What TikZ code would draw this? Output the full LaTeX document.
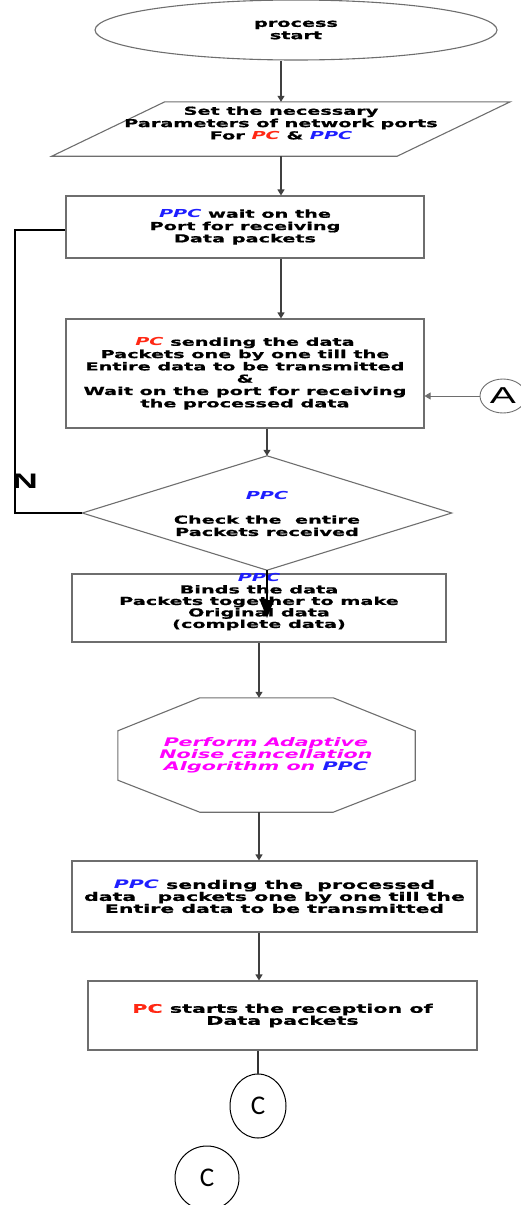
\documentclass[tikz,border=0pt]{standalone}
\usepackage{fontspec}
\setmainfont{DejaVu Sans}[FakeStretch=1.75,BoldFeatures={FakeBold=0.8}]
\newfontfamily\cfont{Carlito}
\newfontfamily\wfont{Liberation Sans}[FakeStretch=1.7]
\usetikzlibrary{arrows.meta,shapes.geometric,calc}
\definecolor{pcred}{RGB}{255,40,20}
\definecolor{ppcblue}{RGB}{30,30,255}
\definecolor{nmag}{RGB}{255,0,255}
\definecolor{edgec}{RGB}{110,110,110}
\newcommand{\myPC}{\textcolor{pcred}{\itshape PC}}
\newcommand{\myPPC}{\textcolor{ppcblue}{\itshape PPC}}
\begin{document}
\begin{tikzpicture}[x=1pt,y=-1pt,
  txt/.style={align=center,font=\fontsize{11}{12.3}\selectfont\bfseries,inner sep=0pt},
  shp/.style={draw=edgec,line width=1.1pt},
  boxn/.style={shp,rectangle,inner sep=0pt},
  arr/.style={draw=black!75,line width=1.2pt,-{Triangle[length=6pt,width=7pt]}},
]
\useasboundingbox (0,0) rectangle (521,1205);
% start
\node[shp,ellipse,minimum width=402pt,minimum height=60pt,txt] (e) at (296,30) {process\\start};
% parallelogram
\node[inner sep=0pt,minimum width=345pt,minimum height=54pt] (p) at (281,129) {};
\draw[shp] ($(p.north west)+(56.5,0)$) -- ($(p.north east)+(56.5,0)$) -- ($(p.south east)+(-56.5,0)$) -- ($(p.south west)+(-56.5,0)$) -- cycle;
\node[txt] (pt) at (281,123) {Set the necessary\\Parameters of network ports\\For \myPC{} \& \myPPC};
% box 3
\node[boxn,txt,minimum width=358pt,minimum height=62pt] (b3) at (245,227) {\myPPC{} wait on the\\Port for receiving\\Data packets};
% box 4
\node[boxn,txt,minimum width=358pt,minimum height=109pt] (b4) at (245,373.5) {\myPC{} sending the data\\Packets one by one till the\\Entire data to be transmitted\\\&\\Wait on the port for receiving\\the processed data};
% connector A
\node[draw=edgec,line width=0.9pt,ellipse,minimum width=46pt,minimum height=34pt,inner sep=0pt,font=\wfont\fontsize{23}{23}\selectfont] (A) at (503,396) {A};
% diamond
\node[inner sep=0pt,minimum width=369pt,minimum height=114pt] (d) at (267,513) {};
\draw[shp] (d.north) -- (d.east) -- (d.south) -- (d.west) -- cycle;
\node[txt] (dt) at (267,513.5) {\myPPC\\[12.3pt]Check the\ \ entire\\Packets received};
% box 5
\node[boxn,minimum width=374pt,minimum height=68pt] (b5) at (259,608) {};
\node[txt,font=\fontsize{11}{11.5}\selectfont\bfseries] (b5t) at (259,602) {\myPPC\\Binds the data\\Packets together to make\\Original data\\(complete data)};
% octagon
\node[inner sep=0pt,minimum width=297pt,minimum height=114pt] (o) at (266.5,755) {};
\draw[shp] ($(o.north west)+(82,0)$) -- ($(o.north east)+(-82,0)$) -- ($(o.north east)+(0,33)$) -- ($(o.south east)+(0,-32)$) -- ($(o.south east)+(-82,0)$) -- ($(o.south west)+(82,0)$) -- ($(o.south west)+(0,-32)$) -- ($(o.north west)+(0,33)$) -- cycle;
\node[txt,text=nmag,font=\fontsize{11.8}{11.8}\selectfont\bfseries\itshape] (ot) at (266,755.5) {Perform Adaptive\\Noise cancellation\\Algorithm on \textcolor{ppcblue}{PPC}};
% box 6
\node[boxn,txt,font=\fontsize{11.7}{12}\selectfont\bfseries,minimum width=405pt,minimum height=71pt] (b6) at (274.5,896.5) {\myPPC{} sending the\ \ processed\\data\ \ \ packets one by one till the\\Entire data to be transmitted};
% box 7
\node[boxn,txt,font=\fontsize{11.8}{12}\selectfont\bfseries,minimum width=389pt,minimum height=69pt] (b7) at (282.5,1015.5) {\textcolor{pcred}{PC} starts the reception of\\Data packets};
% C connectors
\node[draw=black,line width=1pt,ellipse,minimum width=56pt,minimum height=64pt,inner sep=0pt,font=\cfont\fontsize{27}{27}\selectfont] (c1) at (258,1106) {C};
\node[draw=black,line width=1pt,circle,minimum size=64pt,inner sep=0pt,font=\cfont\fontsize{27}{27}\selectfont] (c2) at (207,1178) {C};
% connectors
\draw[arr] (p.north |- e.south) -- (p.north);
\draw[arr] (p.south) -- (p.south |- b3.north);
\draw[arr] (p.south |- b3.south) -- (p.south |- b4.north);
\draw[arr,draw=edgec,line width=0.8pt] (A.west) -- (A.west -| b4.east);
\draw[arr] (d.north |- b4.south) -- (d.north);
\coordinate (nc) at (15,513);
\draw[black,line width=1.4pt] (d.west) -- (nc) |- ([yshift=-3pt]b3.west);
\node[font=\wfont\bfseries\fontsize{21}{21}\selectfont,inner sep=0pt] (nl) at (25,481) {N};
\coordinate (bt) at (266,618);
\draw[black,line width=1.8pt,-{Triangle[length=18pt,width=14pt]}] (d.south) -- (d.south |- bt);
\draw[arr] (b5.south) -- (b5.south |- o.north);
\draw[arr] (b5.south |- o.south) -- (b5.south |- b6.north);
\draw[arr] (b5.south |- b6.south) -- (b5.south |- b7.north);
\draw[black!80,line width=1.2pt] (b7.south -| c1.north) -- (c1.north);
\end{tikzpicture}
\end{document}
